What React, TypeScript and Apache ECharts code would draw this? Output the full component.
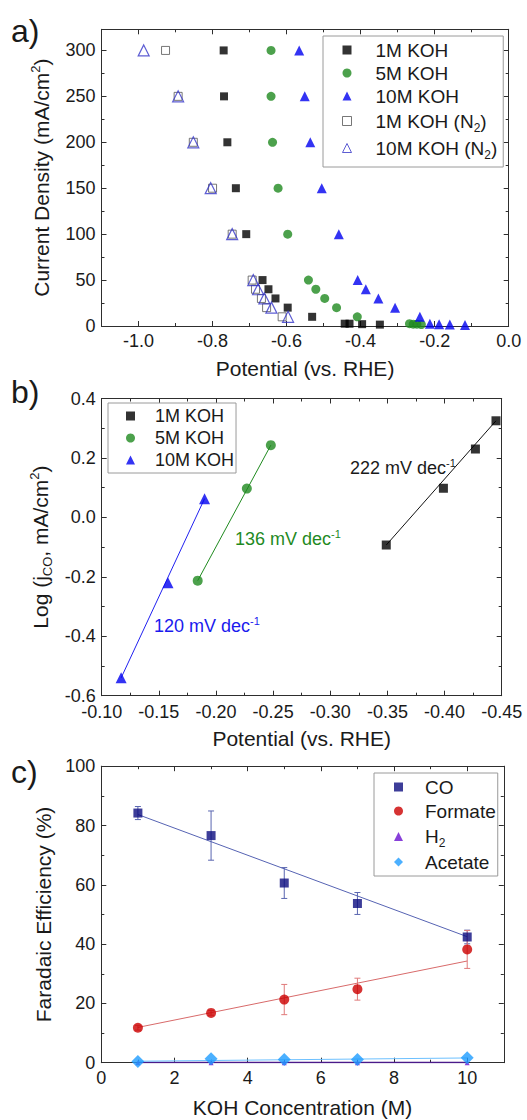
import React, { useEffect, useRef } from 'react';
import * as echarts from 'echarts';

// ---------- Panel a : current density vs potential ----------
const A_1M_X = [-0.770, -0.769, -0.760, -0.737, -0.709, -0.665, -0.649, -0.630, -0.597, -0.531, -0.443, -0.430, -0.396, -0.348];
const A_1M_Y = [300, 250, 200, 150, 100, 50, 40, 30, 20, 10, 2.5, 2.5, 2, 1.5];
const A_5M_X = [-0.642, -0.642, -0.638, -0.623, -0.597, -0.541, -0.521, -0.497, -0.465, -0.409, -0.268, -0.258, -0.248, -0.236];
const A_5M_Y = [300, 250, 200, 150, 100, 50, 40, 30, 20, 10, 2.5, 2, 2, 1.5];
const A_10M_X = [-0.566, -0.551, -0.536, -0.505, -0.459, -0.408, -0.386, -0.352, -0.307, -0.240, -0.213, -0.188, -0.159, -0.118];
const A_10M_Y = [300, 250, 200, 150, 100, 50, 40, 30, 20, 10, 2.5, 2, 1.5, 1];
const A_1MN2_X = [-0.927, -0.893, -0.852, -0.800, -0.747, -0.693, -0.684, -0.668, -0.654, -0.612];
const A_1MN2_Y = [300, 250, 200, 150, 100, 50, 40, 30, 20, 10];
const A_10MN2_X = [-0.986, -0.893, -0.852, -0.805, -0.747, -0.690, -0.677, -0.660, -0.641, -0.596];
const A_10MN2_Y = [300, 250, 200, 150, 100, 50, 40, 30, 20, 10];
const A_X_MAJOR = [-1.0, -0.8, -0.6, -0.4, -0.2, 0.0];
const A_X_MINOR = [-0.9, -0.7, -0.5, -0.3, -0.1];
const A_Y_MAJOR = [0, 50, 100, 150, 200, 250, 300];
const A_Y_MINOR = [25, 75, 125, 175, 225, 275];

// ---------- Panel b : Tafel ----------
const B_1M_X = [-0.349, -0.399, -0.427, -0.445];
const B_1M_Y = [-0.093, 0.098, 0.230, 0.325];
const B_5M_X = [-0.184, -0.227, -0.248];
const B_5M_Y = [-0.213, 0.097, 0.243];
const B_10M_X = [-0.117, -0.158, -0.190];
const B_10M_Y = [-0.540, -0.220, 0.063];
const B_1M_FIT_X = [-0.349, -0.445];
const B_1M_FIT_Y = [-0.093, 0.325];
const B_5M_FIT_X = [-0.184, -0.248];
const B_5M_FIT_Y = [-0.213, 0.243];
const B_10M_FIT_X = [-0.117, -0.190];
const B_10M_FIT_Y = [-0.540, 0.063];
const B_X_MAJOR = [-0.10, -0.15, -0.20, -0.25, -0.30, -0.35, -0.40, -0.45];
const B_X_MINOR = [-0.125, -0.175, -0.225, -0.275, -0.325, -0.375, -0.425];
const B_Y_MAJOR = [-0.6, -0.4, -0.2, 0.0, 0.2, 0.4];
const B_Y_MINOR = [-0.5, -0.3, -0.1, 0.1, 0.3];
const B_SLOPES = ['222', '136', '120'];

// ---------- Panel c : Faradaic efficiency ----------
const C_X = [1, 3, 5, 7, 10];
const C_CO = [84.2, 76.6, 60.6, 53.7, 42.4];
const C_CO_ERR = [2.2, 8.3, 5.2, 3.7, 2.3];
const C_FORMATE = [11.8, 16.8, 21.3, 24.8, 38.2];
const C_FORMATE_ERR = [0.8, 0.8, 5.1, 3.7, 6.4];
const C_H2 = [0, 0, 0, 0, 0];
const C_ACETATE = [0.4, 1.3, 1.1, 1.1, 1.7];
const C_FIT_X = [1, 10];
const C_CO_FIT = [83.7, 42.5];
const C_FORMATE_FIT = [11.9, 34.3];
const C_H2_FIT = [0.1, 0.1];
const C_ACETATE_FIT = [0.5, 1.6];
const C_X_MAJOR = [0, 2, 4, 6, 8, 10];
const C_X_MINOR = [1, 3, 5, 7, 9];
const C_Y_MAJOR = [0, 20, 40, 60, 80, 100];
const C_Y_MINOR = [10, 30, 50, 70, 90];

const FONT = "'Liberation Sans', Arial, Helvetica, sans-serif";
const TXT = '#1a1a1a';
const AX = '#2e2e2e';

const pairs = (xs: number[], ys: number[]) => xs.map((x, i) => [x, ys[i]]);

const nameRich = {
  sup: { fontSize: 13, lineHeight: 13, padding: [0, 0, 13, 0], fontFamily: FONT, color: TXT },
  sub: { fontSize: 13, lineHeight: 13, padding: [13, 0, 0, 0], fontFamily: FONT, color: TXT },
};

function makeX(g: number, min: number, max: number, major: number[], minor: number[], fmt: (v: number) => string, name: string, nameGap: number, margin: number, inverse = false) {
  const base: any = {
    type: 'value', gridIndex: g, min, max, inverse, silent: true,
    splitLine: { show: false }, minorTick: { show: false },
    axisLine: { show: false, onZero: false, lineStyle: { color: AX, width: 1 } },
    axisTick: { show: false }, axisLabel: { show: false },
  };
  const line = { show: true, onZero: false, lineStyle: { color: AX, width: 1 } };
  const majT = { show: true, inside: true, length: 5, customValues: major, lineStyle: { color: AX, width: 1 } };
  const minT = { show: true, inside: true, length: 3, customValues: minor, lineStyle: { color: AX, width: 1 } };
  return [
    {
      ...base, position: 'bottom', axisLine: line, axisTick: majT,
      axisLabel: { show: true, customValues: major, formatter: fmt, fontSize: 18, lineHeight: 16, color: TXT, fontFamily: FONT, margin },
      name, nameLocation: 'middle', nameGap,
      nameTextStyle: { fontSize: 21, color: TXT, fontFamily: FONT, verticalAlign: 'top', rich: nameRich },
    },
    { ...base, position: 'bottom', axisTick: minT },
    { ...base, position: 'top', axisLine: line, axisTick: majT },
    { ...base, position: 'top', axisTick: minT },
  ];
}

function makeY(g: number, min: number, max: number, major: number[], minor: number[], fmt: (v: number) => string, name: string, nameGap: number) {
  const base: any = {
    type: 'value', gridIndex: g, min, max, silent: true,
    splitLine: { show: false }, minorTick: { show: false },
    axisLine: { show: false, onZero: false, lineStyle: { color: AX, width: 1 } },
    axisTick: { show: false }, axisLabel: { show: false },
  };
  const line = { show: true, onZero: false, lineStyle: { color: AX, width: 1 } };
  const majT = { show: true, inside: true, length: 5, customValues: major, lineStyle: { color: AX, width: 1 } };
  const minT = { show: true, inside: true, length: 3, customValues: minor, lineStyle: { color: AX, width: 1 } };
  return [
    {
      ...base, position: 'left', axisLine: line, axisTick: majT,
      axisLabel: { show: true, customValues: major, formatter: fmt, fontSize: 18, lineHeight: 16, color: TXT, fontFamily: FONT, margin: 6 },
      name, nameLocation: 'middle', nameGap,
      nameTextStyle: { fontSize: 21, color: TXT, fontFamily: FONT, rich: nameRich },
    },
    { ...base, position: 'left', axisTick: minT },
    { ...base, position: 'right', axisLine: line, axisTick: majT },
    { ...base, position: 'right', axisTick: minT },
  ];
}

const errRender = (color: string) => (params: any, api: any) => {
  const x = api.value(0);
  const y = api.value(1);
  const e = api.value(2);
  const p1 = api.coord([x, y + e]);
  const p2 = api.coord([x, y - e]);
  const w = 3;
  const style = { stroke: color, lineWidth: 1 };
  return {
    type: 'group',
    children: [
      { type: 'line', shape: { x1: p1[0], y1: p1[1], x2: p2[0], y2: p2[1] }, style },
      { type: 'line', shape: { x1: p1[0] - w, y1: p1[1], x2: p1[0] + w, y2: p1[1] }, style },
      { type: 'line', shape: { x1: p2[0] - w, y1: p2[1], x2: p2[0] + w, y2: p2[1] }, style },
    ],
  };
};

const legendFormatter = (name: string) => name.replace('(N2)', '(N{sub|2})').replace(/^H2$/, 'H{sub|2}');

function makeLegend(names: string[], left: number, top: number, fontSize: number, lineHeight: number, itemGap: number, padding: number[], textPad: number, subPad: number) {
  return {
    data: names, orient: 'vertical', left, top, itemWidth: 9, itemHeight: 9, itemGap, padding,
    borderColor: '#9a9a9a', borderWidth: 1, backgroundColor: '#fff', selectedMode: false,
    symbolKeepAspect: true,
    formatter: legendFormatter,
    itemStyle: { borderWidth: 1 },
    textStyle: {
      fontSize, color: TXT, fontFamily: FONT, lineHeight, padding: [0, 0, 0, textPad],
      rich: { sub: { fontSize: 12, lineHeight: 12, padding: [subPad, 0, 0, 0], fontFamily: FONT, color: TXT } },
    },
  };
}

const slopeText = (v: string, x: number, y: number, color: string) => ({
  type: 'text', x, y, silent: true,
  style: {
    text: `${v} mV dec{sup|-1}`, fontSize: 18, fontFamily: FONT, fill: color, verticalAlign: 'middle',
    rich: { sup: { fontSize: 11, lineHeight: 11, padding: [0, 0, 11, 0], fontFamily: FONT, fill: color } },
  },
});

const panelLabel = (t: string, y: number) => ({
  type: 'text', x: 11, y, silent: true,
  style: { text: t, fontSize: 32, fontFamily: FONT, fill: TXT, verticalAlign: 'middle' },
});

export default function App() {
  const ref = useRef<HTMLDivElement>(null);
  useEffect(() => {
    if (!ref.current) return;
    document.body.style.margin = '0';
    const chart = echarts.init(ref.current, undefined, { renderer: 'svg' });
    const f1 = (v: number) => v.toFixed(1);
    const f2 = (v: number) => v.toFixed(2);
    const f0 = (v: number) => String(Math.round(v));

    const option: any = {
      animation: false,
      backgroundColor: '#fff',
      grid: [
        { left: 101.5, top: 29.3, width: 407.2, height: 296.7 },
        { left: 101.7, top: 398.5, width: 400, height: 297.2 },
        { left: 101.3, top: 766.2, width: 402.5, height: 296.5 },
      ],
      xAxis: [
        ...makeX(0, -1.1, 0, A_X_MAJOR, A_X_MINOR, f1, 'Potential (vs. RHE)', 32, 7),
        ...makeX(1, -0.45, -0.10, B_X_MAJOR, B_X_MINOR, f2, 'Potential (vs. RHE)', 32, 8, true),
        ...makeX(2, 0, 11, C_X_MAJOR, C_X_MINOR, f0, 'KOH Concentration (M)', 34, 7),
      ],
      yAxis: [
        ...makeY(0, 0, 323, A_Y_MAJOR, A_Y_MINOR, f0, 'Current Density (mA/cm{sup|2})', 30),
        ...makeY(1, -0.6, 0.4, B_Y_MAJOR, B_Y_MINOR, f1, 'Log (j{sub|CO}, mA/cm{sup|2})', 39),
        ...makeY(2, 0, 100, C_Y_MAJOR, C_Y_MINOR, f0, 'Faradaic Efficiency (%)', 30),
      ],
      legend: [
        makeLegend(['1M KOH', '5M KOH', '10M KOH', '1M KOH (N2)', '10M KOH (N2)'], 323, 36, 19, 22, 1, [3, 6, 6, 19], 19, 14),
        makeLegend(['1M KOH', '5M KOH', '10M KOH'], 108, 403, 18, 20, 2, [3, 2, 3, 18], 15, 12),
        makeLegend(['CO', 'Formate', 'H2', 'Acetate'], 374, 773, 19, 22, 2, [3, 2, 3, 20], 17, 13),
      ],
      graphic: [
        panelLabel('a)', 31),
        panelLabel('b)', 392),
        panelLabel('c)', 772),
        slopeText(B_SLOPES[0], 350, 468, '#1a1a1a'),
        slopeText(B_SLOPES[1], 235, 539, '#1f8a1f'),
        slopeText(B_SLOPES[2], 154, 626, '#1a1aee'),
      ],
      series: [
        // panel a
        { type: 'scatter', name: '1M KOH', xAxisIndex: 0, yAxisIndex: 0, symbol: 'rect', symbolSize: 8, itemStyle: { color: '#000' }, data: pairs(A_1M_X, A_1M_Y) },
        { type: 'scatter', name: '5M KOH', xAxisIndex: 0, yAxisIndex: 0, symbol: 'circle', symbolSize: 9, itemStyle: { color: '#1f8a1f' }, data: pairs(A_5M_X, A_5M_Y) },
        { type: 'scatter', name: '10M KOH', xAxisIndex: 0, yAxisIndex: 0, symbol: 'triangle', symbolSize: 10, itemStyle: { color: '#0000f0' }, data: pairs(A_10M_X, A_10M_Y) },
        { type: 'scatter', name: '1M KOH (N2)', xAxisIndex: 0, yAxisIndex: 0, symbol: 'rect', symbolSize: 8, itemStyle: { color: 'rgba(255,255,255,0)', borderColor: '#555', borderWidth: 1 }, data: pairs(A_1MN2_X, A_1MN2_Y) },
        { type: 'scatter', name: '10M KOH (N2)', xAxisIndex: 0, yAxisIndex: 0, symbol: 'triangle', symbolSize: 11, itemStyle: { color: 'rgba(255,255,255,0)', borderColor: '#3636c8', borderWidth: 1.2 }, data: pairs(A_10MN2_X, A_10MN2_Y) },
        // panel b fits
        { type: 'line', name: 'fit1', xAxisIndex: 4, yAxisIndex: 4, symbol: 'none', lineStyle: { color: '#111', width: 1 }, data: pairs(B_1M_FIT_X, B_1M_FIT_Y), z: 1 },
        { type: 'line', name: 'fit5', xAxisIndex: 4, yAxisIndex: 4, symbol: 'none', lineStyle: { color: '#1f8a1f', width: 1 }, data: pairs(B_5M_FIT_X, B_5M_FIT_Y), z: 1 },
        { type: 'line', name: 'fit10', xAxisIndex: 4, yAxisIndex: 4, symbol: 'none', lineStyle: { color: '#2020f0', width: 1 }, data: pairs(B_10M_FIT_X, B_10M_FIT_Y), z: 1 },
        // panel b markers
        { type: 'scatter', name: '1M KOH', xAxisIndex: 4, yAxisIndex: 4, symbol: 'rect', symbolSize: 9, itemStyle: { color: '#000' }, data: pairs(B_1M_X, B_1M_Y) },
        { type: 'scatter', name: '5M KOH', xAxisIndex: 4, yAxisIndex: 4, symbol: 'circle', symbolSize: 10, itemStyle: { color: '#1f8a1f' }, data: pairs(B_5M_X, B_5M_Y) },
        { type: 'scatter', name: '10M KOH', xAxisIndex: 4, yAxisIndex: 4, symbol: 'triangle', symbolSize: 11, itemStyle: { color: '#0000f0' }, data: pairs(B_10M_X, B_10M_Y) },
        // panel c error bars
        { type: 'custom', name: 'errCO', xAxisIndex: 8, yAxisIndex: 8, renderItem: errRender('#5a66b0'), encode: { x: 0, y: 1 }, data: C_X.map((x, i) => [x, C_CO[i], C_CO_ERR[i]]), z: 1, silent: true },
        { type: 'custom', name: 'errF', xAxisIndex: 8, yAxisIndex: 8, renderItem: errRender('#e07a7a'), encode: { x: 0, y: 1 }, data: C_X.map((x, i) => [x, C_FORMATE[i], C_FORMATE_ERR[i]]), z: 1, silent: true },
        // panel c fits
        { type: 'line', name: 'fitCO', xAxisIndex: 8, yAxisIndex: 8, symbol: 'none', lineStyle: { color: '#5663b3', width: 1 }, data: pairs(C_FIT_X, C_CO_FIT), z: 1 },
        { type: 'line', name: 'fitF', xAxisIndex: 8, yAxisIndex: 8, symbol: 'none', lineStyle: { color: '#d86a6a', width: 1 }, data: pairs(C_FIT_X, C_FORMATE_FIT), z: 1 },
        { type: 'line', name: 'fitH2', xAxisIndex: 8, yAxisIndex: 8, symbol: 'none', lineStyle: { color: '#4a1a8a', width: 1.5 }, data: pairs(C_FIT_X, C_H2_FIT), z: 1 },
        { type: 'line', name: 'fitAc', xAxisIndex: 8, yAxisIndex: 8, symbol: 'none', lineStyle: { color: '#6cc0ff', width: 1 }, data: pairs(C_FIT_X, C_ACETATE_FIT), z: 1 },
        // panel c markers
        { type: 'scatter', name: 'CO', xAxisIndex: 8, yAxisIndex: 8, symbol: 'rect', symbolSize: 9, itemStyle: { color: '#0c0c80' }, data: pairs(C_X, C_CO), z: 3 },
        { type: 'scatter', name: 'Formate', xAxisIndex: 8, yAxisIndex: 8, symbol: 'circle', symbolSize: 10, itemStyle: { color: '#cc0000' }, data: pairs(C_X, C_FORMATE), z: 3 },
        { type: 'scatter', name: 'H2', xAxisIndex: 8, yAxisIndex: 8, symbol: 'triangle', symbolSize: 5, itemStyle: { color: '#6a10d0' }, data: pairs(C_X, C_H2), z: 2 },
        { type: 'scatter', name: 'Acetate', xAxisIndex: 8, yAxisIndex: 8, symbol: 'diamond', symbolSize: 13, itemStyle: { color: '#1e9cff' }, data: pairs(C_X, C_ACETATE), z: 3 },
      ],
    };
    chart.setOption(option);
    return () => chart.dispose();
  }, []);
  return <div ref={ref} style={{ position: 'absolute', left: 0, top: 0, width: 527, height: 1120 }} />;
}
